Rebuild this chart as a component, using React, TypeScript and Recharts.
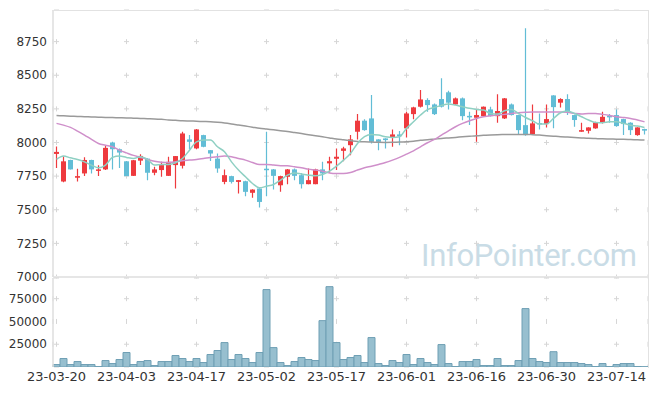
import { ComposedChart, Bar, Line, XAxis, YAxis, CartesianGrid } from 'recharts'

// trading days 23-03-20 .. 23-07-20
const dates = [
  '23-03-20', '23-03-21', '23-03-22', '23-03-23', '23-03-24', '23-03-27', '23-03-28', '23-03-29', '23-03-30', '23-03-31',
  '23-04-03', '23-04-04', '23-04-05', '23-04-06', '23-04-07', '23-04-10', '23-04-11', '23-04-12', '23-04-13', '23-04-14',
  '23-04-17', '23-04-18', '23-04-19', '23-04-20', '23-04-21', '23-04-24', '23-04-25', '23-04-26', '23-04-27', '23-04-28',
  '23-05-02', '23-05-03', '23-05-04', '23-05-08', '23-05-09', '23-05-10', '23-05-11', '23-05-12', '23-05-15', '23-05-16',
  '23-05-17', '23-05-18', '23-05-19', '23-05-22', '23-05-23', '23-05-24', '23-05-25', '23-05-26', '23-05-30', '23-05-31',
  '23-06-01', '23-06-02', '23-06-05', '23-06-07', '23-06-08', '23-06-09', '23-06-12', '23-06-13', '23-06-14', '23-06-15',
  '23-06-16', '23-06-19', '23-06-20', '23-06-21', '23-06-22', '23-06-23', '23-06-26', '23-06-27', '23-06-28', '23-06-29',
  '23-06-30', '23-07-03', '23-07-04', '23-07-05', '23-07-06', '23-07-07', '23-07-10', '23-07-11', '23-07-12', '23-07-13',
  '23-07-14', '23-07-17', '23-07-18', '23-07-19', '23-07-20',
]

const opens = [
  7915, 7710, 7870, 7738, 7770, 7870, 7790, 7800, 8000, 7950,
  7860, 7752, 7865, 7880, 7775, 7795, 7752, 7832, 7827, 8023,
  7956, 8055, 7943, 7880, 7707, 7750, 7707, 7712, 7626, 7658,
  7805, 7800, 7682, 7745, 7800, 7757, 7690, 7690, 7800, 7845,
  7879, 7938, 7980, 8080, 8162, 8179, 8023, 8030, 8035, 8060,
  8105, 8211, 8266, 8316, 8283, 8323, 8373, 8283, 8328, 8198,
  8184, 8196, 8246, 8196, 8179, 8283, 8204, 8129, 8062, 8145,
  8137, 8350, 8296, 8323, 8204, 8080, 8087, 8105, 8147, 8198,
  8204, 8174, 8147, 8055, 8100,
]
const highs = [
  7970, 7895, 7872, 7805, 7890, 7872, 7830, 7975, 8005, 7955,
  7862, 7870, 7912, 7882, 7820, 7856, 7894, 7900, 8080, 8055,
  8100, 8058, 7945, 7918, 7800, 7752, 7722, 7715, 7652, 7660,
  8080, 7802, 7752, 7802, 7807, 7774, 7807, 7805, 7856, 7894,
  7956, 7968, 8055, 8211, 8172, 8353, 8025, 8032, 8097, 8085,
  8229, 8266, 8390, 8328, 8290, 8477, 8385, 8335, 8335, 8229,
  8246, 8268, 8266, 8358, 8330, 8290, 8206, 8849, 8283, 8216,
  8283, 8352, 8328, 8358, 8206, 8147, 8114, 8154, 8229, 8211,
  8246, 8176, 8150, 8114, 8102,
]
const lows = [
  7810, 7705, 7800, 7710, 7750, 7770, 7750, 7795, 7800, 7810,
  7750, 7750, 7832, 7720, 7757, 7745, 7750, 7658, 7807, 7950,
  7950, 7965, 7862, 7775, 7690, 7695, 7620, 7600, 7590, 7516,
  7600, 7650, 7633, 7690, 7720, 7658, 7690, 7690, 7720, 7775,
  7795, 7861, 7906, 8023, 8088, 7993, 7943, 7956, 7968, 7980,
  8037, 8172, 8261, 8229, 8205, 8261, 8246, 8278, 8166, 8130,
  8005, 8194, 8194, 8147, 8175, 8200, 8055, 8050, 8055, 8097,
  8112, 8105, 8261, 8204, 8117, 8080, 8067, 8103, 8142, 8147,
  8117, 8055, 8055, 8050, 8060,
]
const closes = [
  7930, 7860, 7800, 7750, 7870, 7800, 7800, 7960, 7950, 7925,
  7750, 7868, 7900, 7775, 7800, 7832, 7856, 7899, 8067, 8005,
  8097, 7968, 7918, 7807, 7757, 7707, 7720, 7633, 7650, 7558,
  7800, 7752, 7750, 7800, 7752, 7690, 7720, 7800, 7770, 7861,
  7894, 7956, 8023, 8162, 8092, 8005, 8005, 8018, 8060, 8047,
  8216, 8261, 8320, 8278, 8211, 8266, 8296, 8328, 8196, 8194,
  8204, 8266, 8196, 8234, 8328, 8204, 8092, 8055, 8142, 8140,
  8174, 8263, 8323, 8229, 8167, 8092, 8112, 8149, 8191, 8194,
  8122, 8137, 8092, 8112, 8088,
]
const volumes = [
  2700, 9300, 2700, 6000, 2700, 2700, 500, 7100, 3800, 8200,
  15900, 2700, 6000, 7100, 1600, 6000, 6000, 12600, 9300, 6000,
  9300, 4900, 13700, 18100, 26800, 8200, 13700, 9300, 4900, 15900,
  85000, 21300, 4900, 1600, 6000, 10400, 8200, 7100, 50900, 88200,
  26800, 8200, 10400, 12600, 4900, 32300, 3800, 1600, 7100, 4900,
  13700, 2700, 9300, 4900, 2700, 24600, 3800, 500, 6000, 6000,
  8200, 1600, 1600, 9300, 1600, 1600, 7100, 64100, 9300, 6000,
  4900, 16800, 4900, 4900, 4900, 3800, 2700, 500, 3800, 500,
  2700, 3800, 3800, 500, 300,
]
const ma5 = [
  7874, 7899, 7886, 7874, 7856, 7832, 7812, 7832, 7889, 7899,
  7889, 7881, 7894, 7874, 7832, 7837, 7837, 7849, 7881, 7943,
  8005, 8018, 8018, 7968, 7931, 7856, 7795, 7745, 7695, 7663,
  7675, 7688, 7720, 7757, 7774, 7765, 7757, 7752, 7762, 7787,
  7824, 7869, 7918, 7993, 8043, 8060, 8055, 8043, 8037, 8043,
  8105, 8154, 8204, 8244, 8261, 8276, 8286, 8278, 8266, 8254,
  8246, 8241, 8216, 8211, 8236, 8246, 8216, 8186, 8162, 8137,
  8137, 8179, 8221, 8234, 8216, 8191, 8167, 8149, 8147, 8154,
  8154, 8142, 8129, 8122, 8112,
]
const ma20 = [
  8142, 8129, 8112, 8085, 8055, 8023, 7993, 7980, 7968, 7943,
  7923, 7904, 7889, 7874, 7861, 7854, 7851, 7856, 7864, 7869,
  7874, 7881, 7889, 7894, 7899, 7894, 7881, 7869, 7851, 7837,
  7837, 7832, 7827, 7827, 7819, 7812, 7802, 7795, 7787, 7774,
  7770, 7770, 7777, 7795, 7812, 7824, 7837, 7851, 7869, 7889,
  7913, 7938, 7968, 7998, 8023, 8055, 8087, 8117, 8142, 8162,
  8179, 8191, 8199, 8204, 8209, 8216, 8221, 8224, 8226, 8226,
  8226, 8226, 8226, 8224, 8216, 8211, 8216, 8216, 8209, 8201,
  8191, 8186, 8179, 8167, 8154,
]
const ma120 = [
  8200, 8198, 8196, 8194, 8192, 8190, 8188, 8186, 8185, 8184,
  8183, 8181, 8179, 8177, 8175, 8172, 8168, 8165, 8162, 8160,
  8158, 8156, 8154, 8150, 8145, 8138, 8130, 8122, 8114, 8106,
  8100, 8094, 8088, 8082, 8074, 8066, 8058, 8050, 8042, 8034,
  8026, 8020, 8014, 8008, 8005, 8003, 8001, 8000, 8001, 8003,
  8006, 8010, 8016, 8020, 8025, 8030, 8034, 8038, 8042, 8046,
  8050, 8053, 8056, 8058, 8059, 8060, 8060, 8060, 8058, 8055,
  8051, 8047, 8043, 8040, 8037, 8034, 8031, 8029, 8027, 8026,
  8025, 8024, 8022, 8020, 8018,
]
const priceTicks = [7000, 7250, 7500, 7750, 8000, 8250, 8500, 8750]
const volumeTicks = [25000, 50000, 75000]

const rows = dates.map((date, i) => ({
  date,
  open: opens[i],
  high: highs[i],
  low: lows[i],
  close: closes[i],
  volume: volumes[i],
  ma5: ma5[i],
  ma20: ma20[i],
  ma120: ma120[i],
}))

const W = 657
const RED = '#ee3a3e'
const BLUE = '#62bdd6'
const GRID = '#d6d6d6'
const AXIS = '#dedede'
const FONT = 'DejaVu Sans'
const tickStyle = { fontSize: 12, fill: '#333', fontFamily: FONT }

const PRICE_DOMAIN: [number, number] = [7000, 8985]
const PRICE_H = 267
const VOL_DOMAIN: [number, number] = [0, 97700]
const VOL_H = 89

// dash pattern so the vertical grid lines only show short marks at the tick rows
function vDash(domain: [number, number], plotH: number, step: number, firstTick: number) {
  const period = (step * plotH) / (domain[1] - domain[0])
  const c = ((domain[1] - firstTick) * plotH) / (domain[1] - domain[0])
  const offset = ((-(c - 2.5)) % period + period) % period
  return { dash: `5 ${period - 5}`, offset }
}
const pDash = vDash(PRICE_DOMAIN, PRICE_H, 250, 8750)
const vvDash = vDash(VOL_DOMAIN, VOL_H, 25000, 75000)

function Candle(props: any) {
  const { x, y, width, height, payload } = props
  if (!payload) return null
  const { open, close, high, low } = payload
  const top = Math.min(y, y + height)
  const h = Math.abs(height)
  const k = h / (high - low || 1)
  const cx = x + width / 2
  const color = close >= open ? RED : BLUE
  const bodyTop = top + (high - Math.max(open, close)) * k
  const bodyH = Math.max(1.5, Math.abs(open - close) * k)
  return (
    <g>
      <line x1={cx} x2={cx} y1={top} y2={top + h} stroke={color} strokeWidth={1.2} />
      <rect x={x} y={bodyTop} width={width} height={bodyH} fill={color} />
    </g>
  )
}

const NoTick = () => <g />

export default function App() {
  return (
    <div style={{ position: 'absolute', left: 0, top: 0, width: W, height: 396, background: '#fff', fontFamily: FONT }}>
      <svg width={W} height={396} style={{ position: 'absolute', left: 0, top: 0 }}>
        <text x={421} y={266} fontFamily="Roboto" fontSize={31} fill="#c9dce6" letterSpacing={-0.3}>
          InfoPointer.com
        </text>
      </svg>

      <div style={{ position: 'absolute', left: 0, top: 0 }}>
        <ComposedChart width={W} height={290} data={rows} margin={{ top: 10, right: 9, bottom: 11, left: 0 }}>
          <CartesianGrid vertical={false} stroke={GRID} strokeDasharray="5 65" strokeDashoffset={-1} />
          <CartesianGrid horizontal={false} stroke={GRID} strokeDasharray={pDash.dash} strokeDashoffset={pDash.offset} />
          <XAxis dataKey="date" interval={9} tick={NoTick} tickLine={false} height={2} axisLine={{ stroke: '#e6e6e6', strokeWidth: 2 }} />
          <YAxis
            domain={PRICE_DOMAIN}
            ticks={priceTicks}
            allowDataOverflow
            width={53}
            tick={tickStyle}
            tickLine={false}
            tickSize={6}
            tickMargin={0}
            axisLine={{ stroke: AXIS, strokeWidth: 1.5 }}
          />
          <Line type="monotone" dataKey="ma120" stroke="#9a9a9a" strokeWidth={1.5} dot={false} isAnimationActive={false} />
          <Line type="monotone" dataKey="ma20" stroke="#cf8fca" strokeWidth={1.5} dot={false} isAnimationActive={false} />
          <Line type="monotone" dataKey="ma5" stroke="#8fd0c3" strokeWidth={1.5} dot={false} isAnimationActive={false} />
          <Bar dataKey={(d: any) => [d.low, d.high]} barSize={5} shape={<Candle />} isAnimationActive={false} />
        </ComposedChart>
      </div>

      <div style={{ position: 'absolute', left: 0, top: 277 }}>
        <ComposedChart width={W} height={119} data={rows} barCategoryGap={0} margin={{ top: 1, right: 9, bottom: 0, left: 0 }}>
          <CartesianGrid vertical={false} stroke={GRID} strokeDasharray="5 65" strokeDashoffset={-1} />
          <CartesianGrid horizontal={false} stroke={GRID} strokeDasharray={vvDash.dash} strokeDashoffset={vvDash.offset} />
          <XAxis dataKey="date" interval={9} height={29} tick={{ ...tickStyle, fontSize: 13 }} tickLine={false} tickSize={4} tickMargin={1} axisLine={false} />
          <YAxis
            domain={VOL_DOMAIN}
            ticks={volumeTicks}
            allowDataOverflow
            width={53}
            tick={tickStyle}
            tickLine={false}
            tickSize={6}
            tickMargin={0}
            axisLine={{ stroke: AXIS, strokeWidth: 1.5 }}
          />
          <Bar dataKey="volume" fill="#97bfcf" stroke="#6f9fb4" strokeWidth={1} isAnimationActive={false} />
        </ComposedChart>
      </div>

      <div
        style={{
          position: 'absolute',
          left: 53,
          top: 10,
          width: 595,
          height: 357,
          borderTop: '1px solid #e2e2e2',
          borderRight: '1px solid #e2e2e2',
          pointerEvents: 'none',
        }}
      />
    </div>
  )
}
